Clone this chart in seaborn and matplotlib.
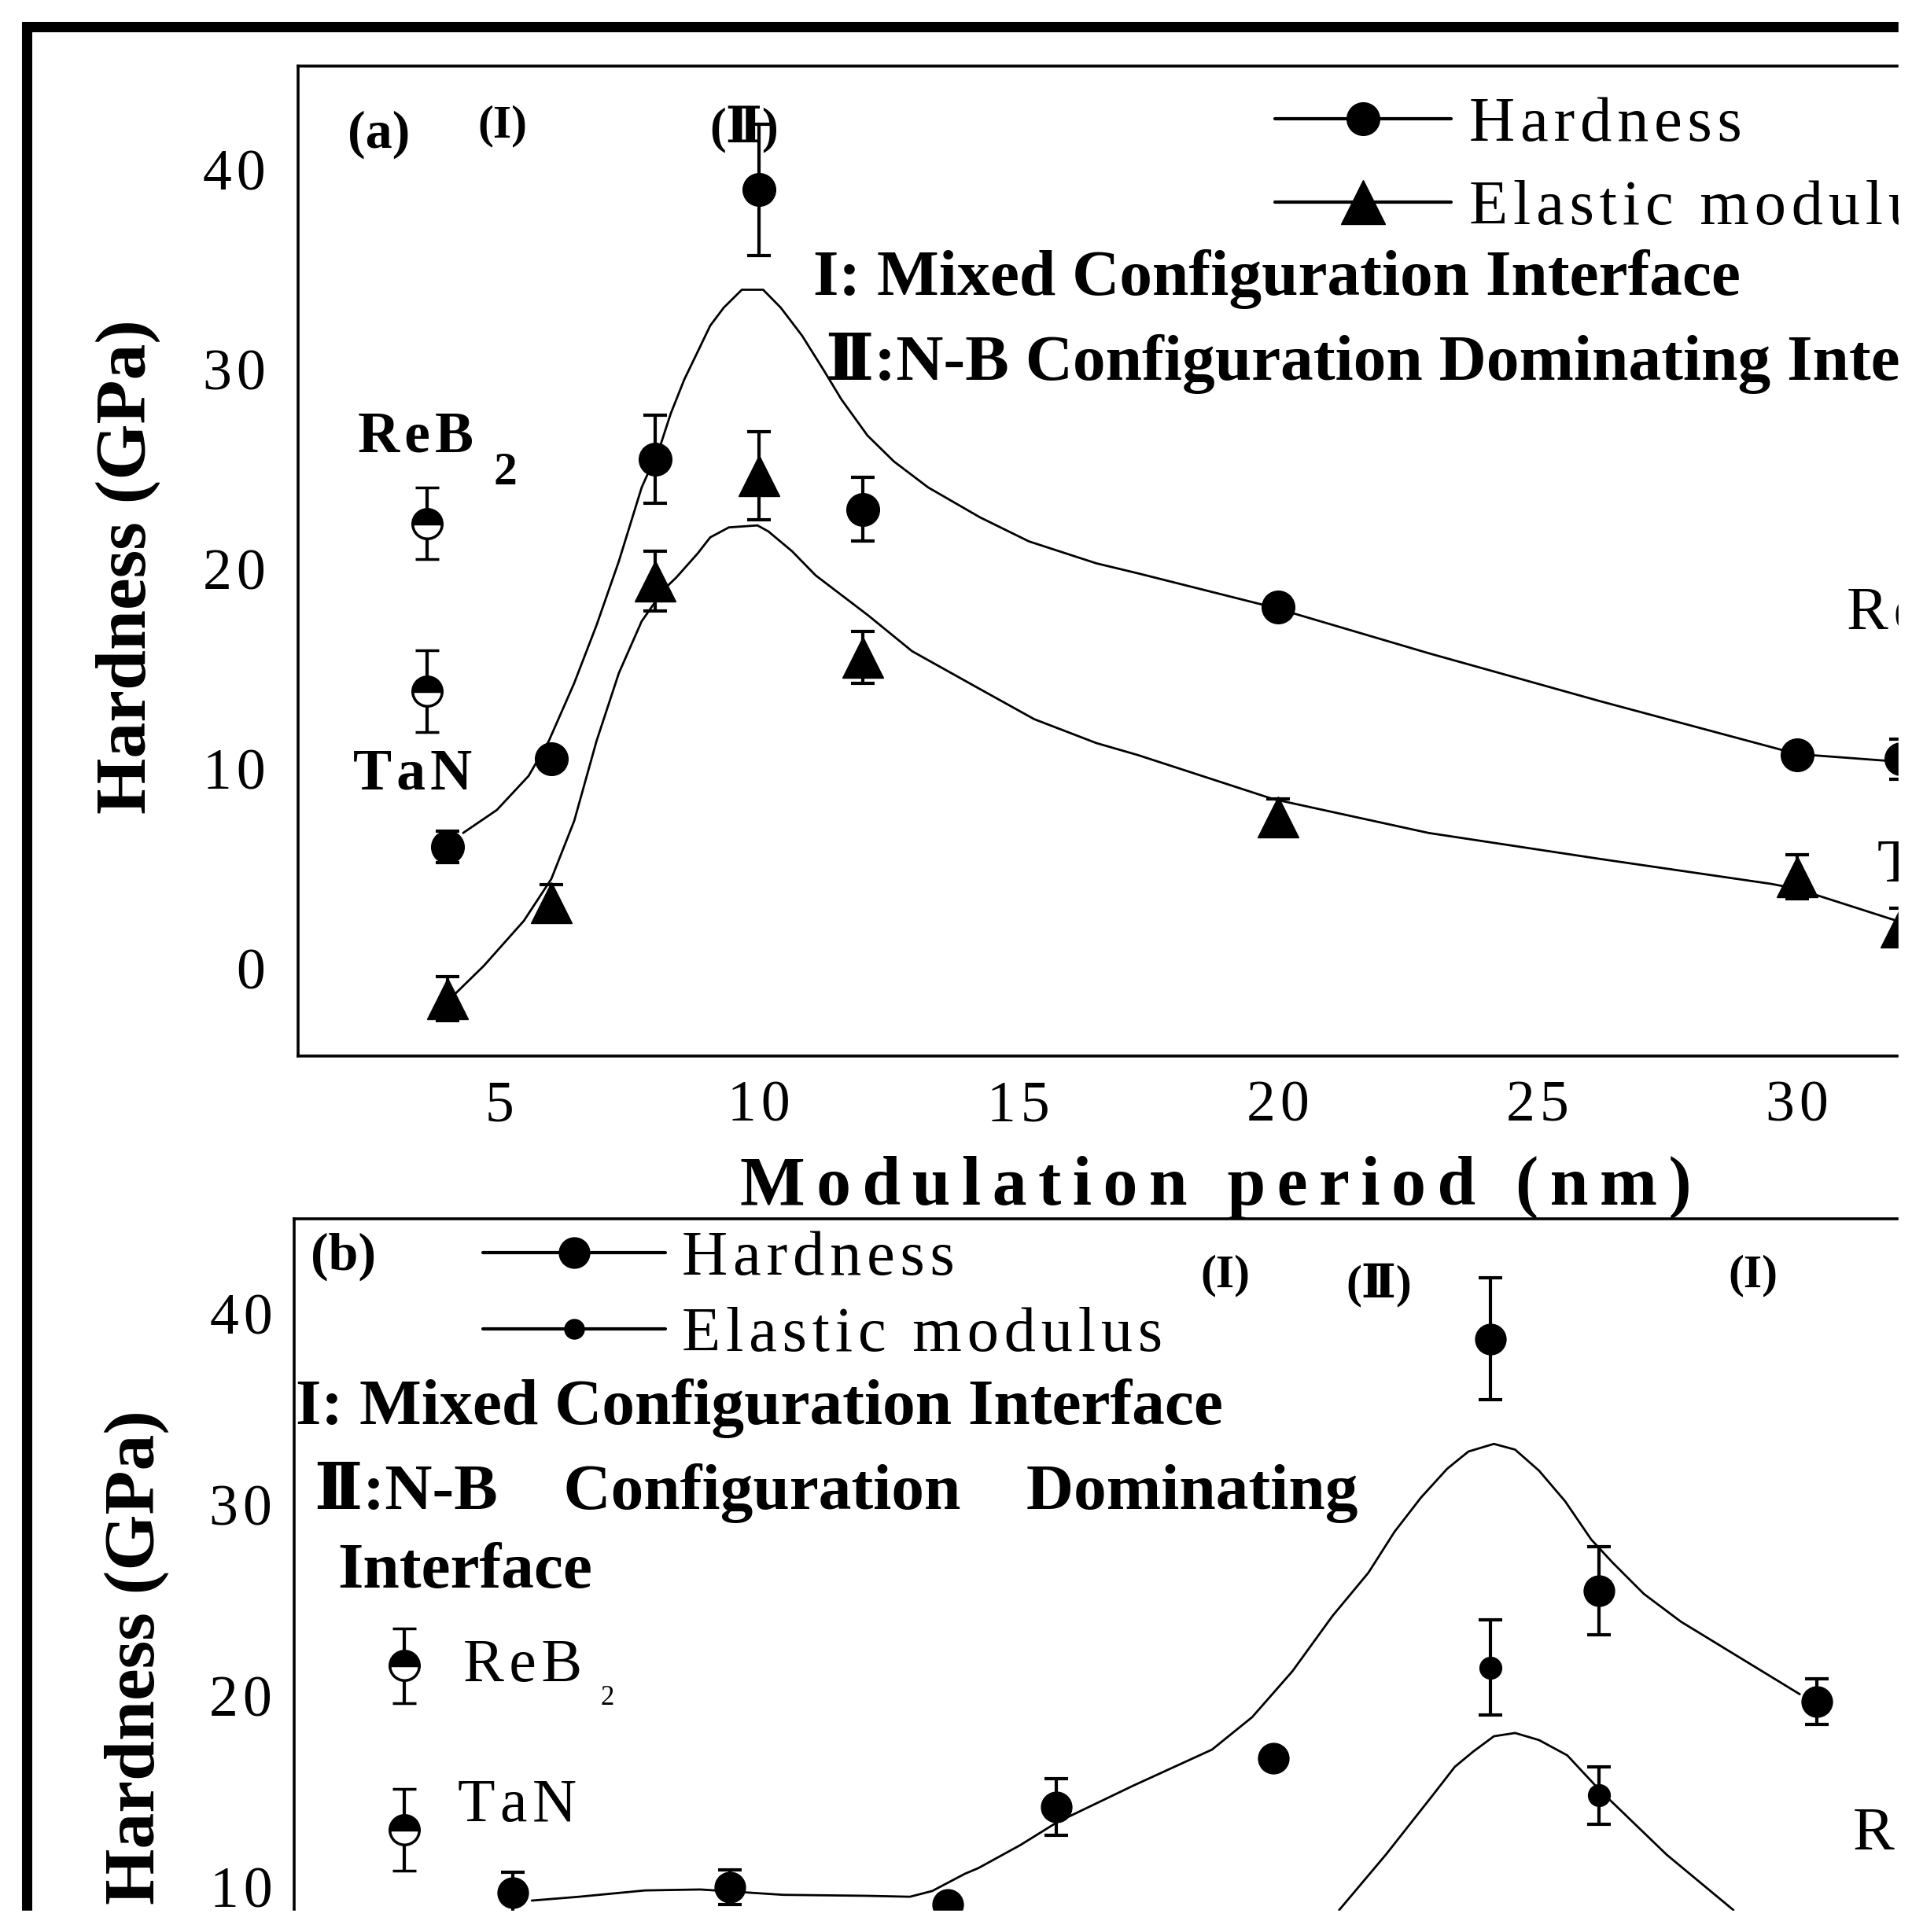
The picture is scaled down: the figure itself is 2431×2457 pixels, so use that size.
import seaborn as sns
import matplotlib.pyplot as plt
from matplotlib.lines import Line2D
from matplotlib.patches import Rectangle

# =================================================================
# Values
# =================================================================
# panel (a): x = modulation period (nm)
period_a = [4, 6, 8, 10, 12, 20, 30, 32]
hard_a = [6.1, 10.5, 25.5, 39.0, 23.0, 18.1, 10.7, 10.5]
hard_a_err = [0.8, 0.0, 2.2, 3.3, 1.6, 0.0, 0.0, 1.0]
elastic_a = [-1.5, 3.3, 19.4, 24.7, 15.6, 7.6, 4.6, 2.1]
elastic_a_err = [1.1, 0.9, 1.5, 2.2, 1.3, 0.9, 1.1, 0.95]

# fitted curves of panel (a), traced point by point
hard_fit_a_x = [4.3, 4.95, 5.56, 5.95, 6.44, 6.87, 7.3, 7.74, 8.1, 8.3, 8.56, 8.82,
                9.06, 9.32, 9.67, 10.08, 10.42, 10.83, 11.24, 11.59, 12.09, 12.6,
                13.26, 13.86, 14.26, 15.2, 16.5, 17.3, 19.9, 22.9, 26.2, 29.5,
                30.0, 31.8, 32.5]
hard_fit_a_y = [6.8, 7.95, 9.65, 11.4, 14.3, 17.2, 20.4, 24.1, 26.2, 27.8, 29.5, 30.9,
                32.2, 33.1, 34.0, 34.0, 33.1, 31.7, 30.0, 28.5, 26.7, 25.4,
                24.1, 23.2, 22.6, 21.4, 20.3, 19.8, 18.1, 15.8, 13.4, 11.1,
                10.75, 10.4, 10.3]
elastic_fit_a_x = [4.09, 4.7, 5.47, 6.0, 6.44, 6.87, 7.3, 7.74, 8.17, 8.41, 8.82, 9.06,
                   9.42, 9.97, 10.18, 10.64, 11.09, 12.1, 12.95, 14.26, 15.3, 16.5,
                   17.3, 19.9, 22.9, 26.2, 29.5, 30.0, 31.8, 32.3]
elastic_fit_a_y = [-1.4, 0.15, 2.4, 4.5, 7.4, 11.4, 14.8, 17.4, 19.0, 19.6, 20.8, 21.6,
                   22.1, 22.2, 21.9, 20.9, 19.7, 17.7, 15.9, 14.0, 12.5, 11.3,
                   10.7, 8.5, 6.8, 5.5, 4.25, 4.0, 2.5, 2.1]

# single-layer references, panel (a)
ref_x_a = 3.6
reb2_a, reb2_a_err = 22.3, 1.8
tan_a, tan_a_err = 13.9, 2.05

# panel (b)
period_b = [4, 8, 12, 14, 18, 22, 24, 28]
hard_b = [9.7, 10.0, 9.1, 14.2, 16.75, 38.7, 25.5, 19.7]
hard_b_err = [1.1, 0.9, 0.0, 1.5, 0.0, 3.2, 2.3, 1.2]
elastic_b_x = [22, 24]
elastic_b = [21.5, 14.8]
elastic_b_err = [2.5, 1.5]

hard_fit_b_x = [4.35, 5.22, 6.43, 7.45, 8.98, 10.49, 11.31, 11.72, 12.32, 12.57, 13.34,
                14.02, 15.41, 16.87, 17.61, 18.35, 19.09, 19.75, 20.23, 20.72, 21.2,
                21.59, 22.06, 22.45, 22.89, 23.37, 23.85, 24.24, 24.82, 25.5, 26.71,
                27.69]
hard_fit_b_y = [9.3, 9.5, 9.83, 9.88, 9.6, 9.55, 9.5, 9.8, 10.7, 11.0, 12.2,
                13.4, 15.3, 17.2, 18.9, 21.3, 24.2, 26.46, 28.6, 30.4, 31.9,
                32.8, 33.2, 32.9, 31.8, 30.2, 28.2, 27.0, 25.35, 23.9, 21.8,
                20.1]
elastic_fit_b_x = [19.21, 20.07, 20.93, 21.34, 21.68, 22.06, 22.45, 22.89, 23.41, 24.0,
                   25.24, 26.47]
elastic_fit_b_y = [8.8, 11.7, 14.8, 16.3, 17.1, 17.9, 18.07, 17.7, 16.9, 15.1,
                   11.7, 8.8]

ref_x_b = 2
reb2_b, reb2_b_err = 21.6, 1.95
tan_b, tan_b_err = 13.0, 2.15

yticks_a = [0, 10, 20, 30, 40]
xticks_a = [5, 10, 15, 20, 25, 30, 35]
yticks_b = [0, 10, 20, 30, 40]

# =================================================================
# Style
# =================================================================
sns.set_style('white', rc={'text.color': 'black', 'axes.labelcolor': 'black',
                           'xtick.color': 'black', 'ytick.color': 'black',
                           'axes.edgecolor': 'black'})
plt.rcParams['font.family'] = ['Liberation Serif', 'DejaVu Serif', 'DejaVu Sans']
plt.rcParams['axes.linewidth'] = 2.6


def spaced(s, gap='\u200a'):
    # mimic the wide letter spacing of the original
    return gap.join(s)


W, H = 2431, 2457
fig = plt.figure(figsize=(W / 100, H / 100), dpi=100)


def axes_px(left, top, right, bottom):
    return fig.add_axes([left / W, 1 - bottom / H, (right - left) / W, (bottom - top) / H])


ax_a = axes_px(379, 84, 2681, 1343)
ax_b = axes_px(374, 1550, 2892, 2765)

eb = dict(color='k', elinewidth=3, capsize=11, capthick=3, linestyle='none', zorder=3)

# -----------------------------------------------------------------
# (a)
# -----------------------------------------------------------------
ax = ax_a
sns.lineplot(x=hard_fit_a_x, y=hard_fit_a_y, ax=ax, color='k', lw=2, sort=False, estimator=None)
sns.lineplot(x=elastic_fit_a_x, y=elastic_fit_a_y, ax=ax, color='k', lw=2, sort=False, estimator=None)
ax.errorbar(period_a, hard_a, yerr=hard_a_err, marker='o', ms=30, **eb)
ax.errorbar(period_a, elastic_a, yerr=elastic_a_err, marker='^', ms=38, **eb)
for val, err in [(reb2_a, reb2_a_err), (tan_a, tan_a_err)]:
    ax.errorbar([ref_x_a], [val], yerr=[err], marker='o', ms=27, fillstyle='top',
                mfc='k', markerfacecoloralt='white', mec='k', mew=2.5, **eb)

ax.set_xlim(1.121, 36.0)
ax.set_ylim(-4.37, 45.2)
ax.set_xticks(xticks_a)
ax.set_xticklabels([spaced(str(t)) for t in xticks_a])
ax.set_yticks(yticks_a)
ax.set_yticklabels([spaced(str(t)) for t in yticks_a])
ax.tick_params(axis='x', direction='out', length=7, width=2.5, pad=15, labelsize=53)
ax.tick_params(axis='y', length=0, pad=30, labelsize=53)
ax.set_xlabel(spaced('Modulation period (nm)', '\u200a\u200a'), fontsize=63, fontweight='bold')
ax.xaxis.set_label_coords(0.507, -0.1334)
ax.xaxis.label.set_va('center')
ax.set_ylabel('Hardness (GPa)', fontsize=66, fontweight='bold')
ax.yaxis.set_label_coords(-0.0938, 0.494)
ax.yaxis.label.set_va('center')

ax.text(2.08, 41.77, '(a)', fontsize=49, fontweight='bold', va='center')
ax.text(4.58, 42.2, '(I)', fontsize=43, fontweight='bold', va='center')
ax.text(9.05, 42.0, '(\u2161)', fontsize=45, fontweight='bold', va='center')
ax.text(11.05, 33.74, 'I: Mixed Configuration Interface', fontsize=60, fontweight='bold', va='baseline')
ax.text(11.29, 29.5, '\u2161:N-B Configuration Dominating Interface', fontsize=60,
        fontweight='bold', va='baseline')
ax.text(2.27, 25.9, spaced('ReB'), fontsize=53, fontweight='bold', va='baseline')
ax.text(4.88, 24.25, '2', fontsize=43, fontweight='bold', va='baseline')
ax.text(2.18, 9.0, spaced('TaN'), fontsize=53, fontweight='bold', va='baseline')
ax.text(30.95, 17.0, spaced('ReB2'), fontsize=57, va='baseline')
ax.text(31.55, 4.37, spaced('TaN'), fontsize=57, va='baseline')

handles_a = [Line2D([], [], color='k', lw=3, marker='o', ms=30),
             Line2D([], [], color='k', lw=3, marker='^', ms=40)]
ax.legend(handles_a, [spaced('Hardness'), spaced('Elastic modulus')], loc='upper left',
          bbox_to_anchor=((1621 - 379) / 2302, 0.9690), frameon=False,
          fontsize=58, handlelength=2.78, handletextpad=0.29, labelspacing=0.40,
          borderpad=0, borderaxespad=0)

# -----------------------------------------------------------------
# (b)
# -----------------------------------------------------------------
ax = ax_b
sns.lineplot(x=hard_fit_b_x, y=hard_fit_b_y, ax=ax, color='k', lw=2, sort=False, estimator=None)
sns.lineplot(x=elastic_fit_b_x, y=elastic_fit_b_y, ax=ax, color='k', lw=2, sort=False, estimator=None)
ax.errorbar(period_b, hard_b, yerr=hard_b_err, marker='o', ms=28, **eb)
ax.errorbar(elastic_b_x, elastic_b, yerr=elastic_b_err, marker='o', ms=20, **eb)
for val, err in [(reb2_b, reb2_b_err), (tan_b, tan_b_err)]:
    ax.errorbar([ref_x_b], [val], yerr=[err], marker='o', ms=27, fillstyle='top',
                mfc='k', markerfacecoloralt='white', mec='k', mew=2.5, **eb)

ax.set_xlim(-0.025, 36.43)
ax.set_ylim(-5.02, 44.98)
ax.set_xticks(xticks_a)
ax.set_yticks(yticks_b)
ax.set_yticklabels([spaced(str(t)) for t in yticks_b])
ax.tick_params(axis='x', direction='out', length=7, width=2.5, pad=15, labelsize=53)
ax.tick_params(axis='y', length=0, pad=20, labelsize=53)
ax.set_ylabel('Hardness (GPa)', fontsize=66, fontweight='bold')
ax.yaxis.set_label_coords(-0.0794, 0.541)
ax.yaxis.label.set_va('center')

ax.text(0.28, 43.0, '(b)', fontsize=49, fontweight='bold', va='center')
for xx, yy, lab in [(17.11, 42.0, '(I)'), (19.95, 41.5, '(\u2161)'), (26.83, 42.0, '(I)')]:
    ax.text(xx, yy, lab, fontsize=43, fontweight='bold', ha='center', va='center')
ax.text(0.0, 34.24, 'I: Mixed Configuration Interface', fontsize=60, fontweight='bold', va='baseline')
ax.text(0.35, 29.8, '\u2161:N-B    Configuration    Dominating', fontsize=60,
        fontweight='bold', va='baseline')
ax.text(0.77, 25.7, 'Interface', fontsize=60, fontweight='bold', va='baseline')
ax.text(3.09, 20.8, spaced('ReB'), fontsize=56, va='baseline')
ax.text(5.62, 19.55, '2', fontsize=25, va='baseline')
ax.text(2.99, 13.46, spaced('TaN'), fontsize=56, va='baseline')
ax.text(28.67, 11.97, spaced('ReB2'), fontsize=57, va='baseline')

handles_b = [Line2D([], [], color='k', lw=3, marker='o', ms=28),
             Line2D([], [], color='k', lw=3, marker='o', ms=18)]
ax.legend(handles_b, [spaced('Hardness'), spaced('Elastic modulus')], loc='upper left',
          bbox_to_anchor=((614 - 374) / 2518, 0.9877), frameon=False,
          fontsize=58, handlelength=2.88, handletextpad=0.26, labelspacing=0.29,
          borderpad=0, borderaxespad=0)

# outer frame and the cropped white margins
fig.add_artist(Line2D([34 / W, 34 / W, 1], [0, 1 - 34 / H, 1 - 34 / H], transform=fig.transFigure,
                      color='k', lw=9.4, solid_joinstyle='miter', zorder=5))
fig.add_artist(Rectangle((2414 / W, 0), 1, 1, transform=fig.transFigure,
                         color='white', zorder=10))
fig.add_artist(Rectangle((0, 0), 1, (H - 2430) / H, transform=fig.transFigure,
                         color='white', zorder=10))

fig.savefig('out.png', dpi=100)
